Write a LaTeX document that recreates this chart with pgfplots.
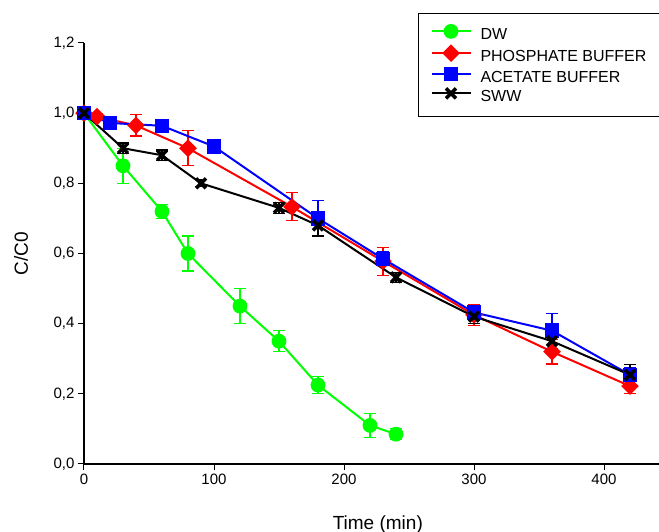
\documentclass[border=0pt]{standalone}
\usepackage{fontspec}
\setmainfont{Liberation Sans}
\usepackage{pgfplots}
\pgfplotsset{compat=1.18}
\definecolor{cg}{RGB}{0,255,0}
\definecolor{cr}{RGB}{255,0,0}
\definecolor{cb}{RGB}{0,0,255}
\begin{document}
\begin{tikzpicture}
\useasboundingbox (-84pt,-68pt) rectangle (575pt,464pt);
\begin{axis}[
  scale only axis, width=575pt, height=421pt,
  xmin=0, xmax=442.3, ymin=0, ymax=1.2,
  axis lines*=left,
  axis line style={line width=1.4pt},
  tick align=outside, major tick length=6pt,
  every tick/.style={black, line width=1pt},
  xtick={0,100,200,300,400}, ytick={0,0.2,0.4,0.6,0.8,1.0,1.2},
  /pgf/number format/assume math mode=true,
  yticklabel style={/pgf/number format/.cd, fixed, fixed zerofill, precision=1, use comma},
  tick label style={font=\fontsize{15}{18}\selectfont},
  xlabel={Time (min)}, ylabel={C/C0},
  every axis x label/.style={at={(axis description cs:0.511,-0.1544)}, anchor=base, font=\fontsize{19}{22}\selectfont},
  every axis y label/.style={at={(axis description cs:-0.1096,0.5)}, rotate=90, anchor=center, font=\fontsize{19}{22}\selectfont},
  legend style={at={(rel axis cs:0.5809,1.0713)}, anchor=north west, draw=black, line width=1pt,
    font=\fontsize{16}{19}\selectfont, inner xsep=12pt, inner ysep=11.5pt,
    nodes={inner sep=0pt, text height=12pt, text depth=3pt, line width=2pt},
    row sep=3pt,
    /tikz/every odd column/.append style={column sep=9pt}},
  legend cell align=left,
  legend image code/.code={\draw[mark repeat=2,mark phase=2] plot coordinates {(0pt,4pt) (19.5pt,4pt) (39pt,4pt)};},
  error bars/y dir=both, error bars/y explicit,
  error bars/error bar style={line width=1.1pt},
  error bars/error mark options={rotate=90, mark size=6pt, line width=1.1pt},
]
\addplot[color=cg, line width=2pt, mark=*, mark size=6.4pt, mark options={fill=cg}]
  table[x=t, y=c, y error=e] {
t c e
0 1.00 0.0
30 0.85 0.05
60 0.72 0.02
80 0.60 0.05
120 0.45 0.05
150 0.35 0.03
180 0.225 0.025
220 0.11 0.035
240 0.085 0.015
};
\addlegendentry{DW}
\addplot[color=cr, line width=2pt, mark=square*, mark size=5.2pt, mark options={fill=cr, rotate=45}]
  table[x=t, y=c, y error=e] {
t c e
0 1.00 0.01
10 0.99 0.01
40 0.965 0.03
80 0.90 0.05
160 0.733 0.04
230 0.578 0.04
300 0.425 0.03
360 0.32 0.035
420 0.222 0.022
};
\addlegendentry{\makebox[200pt][l]{PHOSPHATE BUFFER}}
\addplot[color=cb, line width=2pt, mark=square*, mark size=6.2pt, mark options={fill=cb}]
  table[x=t, y=c, y error=e] {
t c e
0 1.00 0.005
20 0.972 0.01
60 0.964 0.01
100 0.905 0.02
180 0.70 0.05
230 0.585 0.02
300 0.432 0.02
360 0.38 0.05
420 0.254 0.02
};
\addlegendentry{ACETATE BUFFER}
\addplot[color=black, line width=2pt, mark=x, mark size=7pt, mark options={line width=3.5pt}]
  table[x=t, y=c, y error=e] {
t c e
0 1.00 0.005
30 0.90 0.015
60 0.88 0.015
90 0.80 0.01
150 0.73 0.015
180 0.68 0.03
240 0.532 0.015
300 0.42 0.02
360 0.35 0.03
420 0.254 0.03
};
\addlegendentry{SWW}
\end{axis}
\end{tikzpicture}
\end{document}
